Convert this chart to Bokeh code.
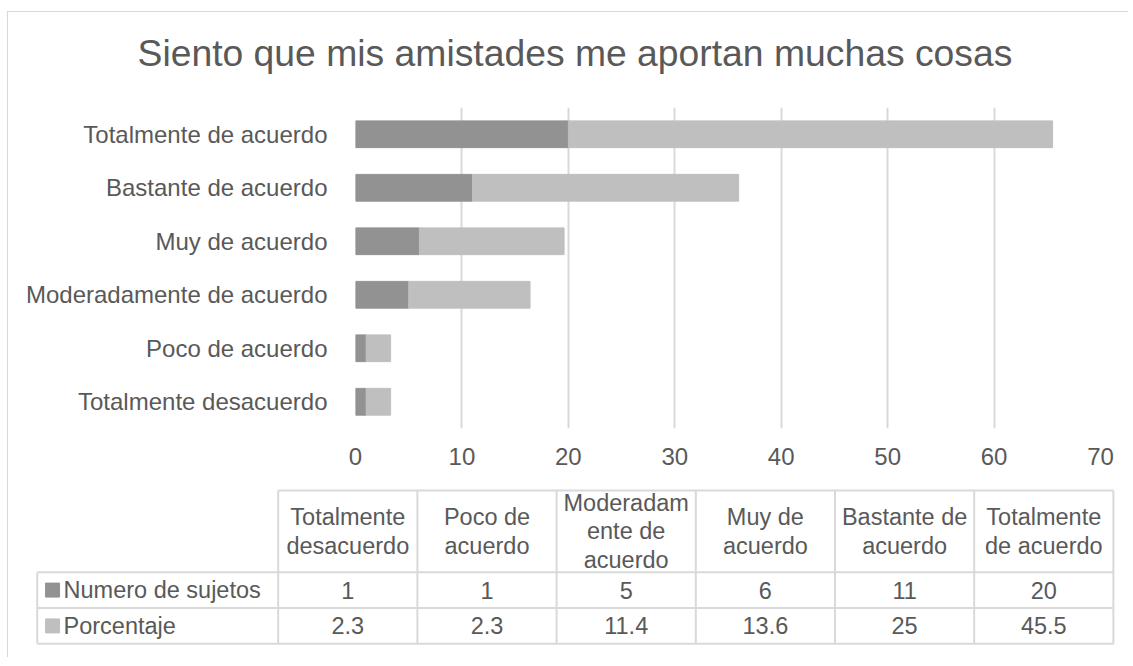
from bokeh.plotting import figure
from bokeh.models import ColumnDataSource, Range1d, FactorRange, FixedTicker
from bokeh.layouts import column
from bokeh.embed import file_html
from bokeh.resources import INLINE
from bokeh.core.properties import value

# ---------------- data ----------------
title_text = "Siento que mis amistades me aportan muchas cosas"
categories = ["Totalmente desacuerdo", "Poco de acuerdo", "Moderadamente de acuerdo",
              "Muy de acuerdo", "Bastante de acuerdo", "Totalmente de acuerdo"]
header_labels = ["Totalmente\ndesacuerdo", "Poco de\nacuerdo", "Moderadam\nente de\nacuerdo",
                 "Muy de\nacuerdo", "Bastante de\nacuerdo", "Totalmente\nde acuerdo"]
series_names = ["Numero de sujetos", "Porcentaje"]
numero = [1, 1, 5, 6, 11, 20]
porcentaje = [2.3, 2.3, 11.4, 13.6, 25, 45.5]
x_ticks = [0, 10, 20, 30, 40, 50, 60, 70]
colors = ["#929292", "#bfbfbf"]

# ---------------- style ----------------
FONT = "Liberation Sans"
TXT = "#595959"
GRID = "#d9d9d9"
W = 1120
H0 = 95
H1 = 373
H2 = 177

# ---------------- title strip ----------------
p0 = figure(width=W, height=H0, output_backend="svg", toolbar_location=None, min_border=0,
            x_axis_location=None, y_axis_location=None, title=title_text)
p0.frame_align = False
p0.grid.visible = False
p0.outline_line_color = None
p0.title.text_font = FONT
p0.title.text_font_size = "37.3px"
p0.title.text_font_style = "normal"
p0.title.text_color = TXT
p0.title.align = "left"
p0.title.offset = 129
p0.title.vertical_align = "top"
p0.title.standoff = 39

# ---------------- bar chart ----------------
p1 = figure(width=W, height=H1, y_range=FactorRange(*categories), x_range=Range1d(0, x_ticks[-1]),
            output_backend="svg", toolbar_location=None,
            min_border_left=347, min_border_right=28, min_border_top=0, min_border_bottom=52)
p1.frame_align = False
src = ColumnDataSource(dict(cat=categories, **{series_names[0]: numero, series_names[1]: porcentaje}))
p1.hbar_stack(series_names, y="cat", height=0.5, color=colors, source=src)

p1.outline_line_color = None
p1.ygrid.grid_line_color = None
p1.xgrid.grid_line_color = GRID
p1.xgrid.grid_line_width = 2

p1.xaxis.ticker = FixedTicker(ticks=x_ticks)
p1.xaxis.axis_line_color = None
p1.xaxis.major_tick_line_color = None
p1.xaxis.minor_tick_line_color = None
p1.xaxis.major_tick_out = 0
p1.xaxis.major_tick_in = 0
p1.xaxis.major_label_standoff = 19
p1.xaxis.major_label_text_font = FONT
p1.xaxis.major_label_text_font_size = "24px"
p1.xaxis.major_label_text_color = TXT

p1.yaxis.axis_line_color = None
p1.yaxis.major_tick_line_color = None
p1.yaxis.major_tick_out = 0
p1.yaxis.major_tick_in = 0
p1.yaxis.major_label_standoff = 28
p1.yaxis.major_label_text_font = FONT
p1.yaxis.major_label_text_font_size = "24px"
p1.yaxis.major_label_text_color = TXT

# ---------------- data table ----------------
LEG = -1.731      # left edge of legend column (in column units)
HDR = 4.282       # top of header row (in row units)
n = len(categories)

p2 = figure(width=W, height=H2, x_range=Range1d(-1.9375, 6.1085), y_range=Range1d(-0.383, 4.561),
            output_backend="svg", toolbar_location=None, min_border=0,
            x_axis_location=None, y_axis_location=None)
p2.frame_align = False
p2.grid.visible = False
p2.outline_line_color = None

# table lines
x0s, y0s, x1s, y1s = [], [], [], []
for yy in [0, 1, 2]:
    x0s.append(LEG); x1s.append(n); y0s.append(yy); y1s.append(yy)
x0s.append(0); x1s.append(n); y0s.append(HDR); y1s.append(HDR)
x0s.append(LEG); x1s.append(LEG); y0s.append(0); y1s.append(2)
for i in range(n + 1):
    x0s.append(i); x1s.append(i); y0s.append(0); y1s.append(HDR)
p2.segment(x0=x0s, y0=y0s, x1=x1s, y1=y1s, line_color=GRID, line_width=2)

TS = "23.5px"
# header
p2.text(x=[i + 0.5 for i in range(n)], y=[(2 + HDR) / 2] * n, text=header_labels,
        text_font=value(FONT), text_font_size=TS, text_color=TXT,
        text_align="center", text_baseline="middle", text_line_height=1.1)
# values
p2.text(x=[i + 0.5 for i in range(n)], y=[1.5] * n, text=[f"{v:g}" for v in numero],
        text_font=value(FONT), text_font_size=TS, text_color=TXT,
        text_align="center", text_baseline="middle")
p2.text(x=[i + 0.5 for i in range(n)], y=[0.5] * n, text=[f"{v:g}" for v in porcentaje],
        text_font=value(FONT), text_font_size=TS, text_color=TXT,
        text_align="center", text_baseline="middle")
# legend keys
p2.scatter(x=[LEG + 0.110] * 2, y=[1.5, 0.5], marker="square", size=14, color=colors)
p2.text(x=[LEG + 0.189] * 2, y=[1.5, 0.5], text=series_names,
        text_font=value(FONT), text_font_size=TS, text_color=TXT,
        text_align="left", text_baseline="middle")

layout = column(p0, p1, p2, styles={"border-left": "1px solid #d9d9d9",
                                    "border-top": "1px solid #d9d9d9",
                                    "margin-top": "11px", "margin-left": "7px"})

open("out.html", "w").write(file_html(layout, INLINE))
